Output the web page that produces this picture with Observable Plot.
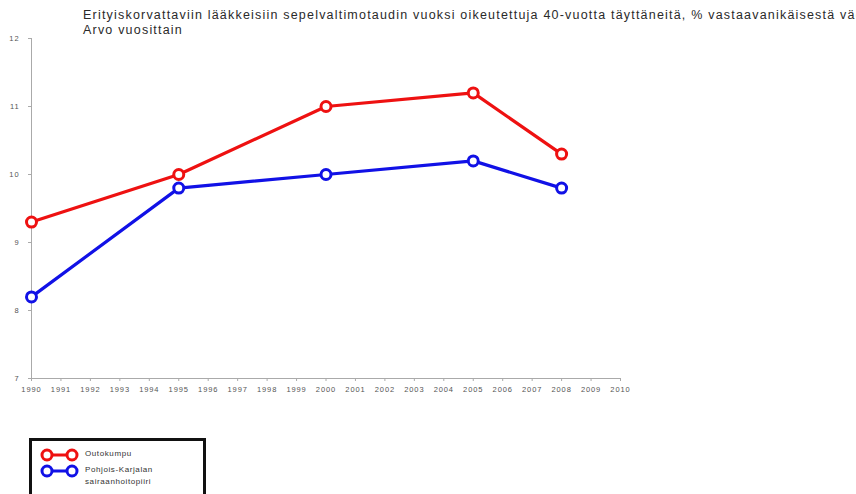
<!DOCTYPE html>
<html><head><meta charset="utf-8">
<script src="https://cdn.jsdelivr.net/npm/d3@7"></script>
<script src="https://cdn.jsdelivr.net/npm/@observablehq/plot@0.6"></script>
<style>
html,body{margin:0;padding:0;width:856px;height:494px;overflow:hidden;background:#fff;font-family:"Liberation Sans",Arial,sans-serif;}
#title{position:absolute;left:83px;top:8px;font-size:12.5px;letter-spacing:1.2px;line-height:15px;color:#2a2a2a;white-space:nowrap;}
#chart{position:absolute;left:0;top:0;}
#legend{position:absolute;left:29px;top:438px;width:177px;height:62px;border:3px solid #111;box-sizing:border-box;font-size:8px;letter-spacing:0.6px;color:#333;}
.row{position:absolute;left:0;display:flex;align-items:flex-start;}
.row svg{display:block;}
.row span{margin-left:0px;line-height:12px;}
</style></head><body>
<div id="chart"></div>
<div id="title">Erityiskorvattaviin lääkkeisiin sepelvaltimotaudin vuoksi oikeutettuja 40-vuotta täyttäneitä, % vastaavanikäisestä väestöstä<br>Arvo vuosittain</div>
<div id="legend"></div>
<script>
const years = [1990, 1995, 2000, 2005, 2008];
const outokumpu = [9.3, 10.0, 11.0, 11.2, 10.3];
const pohjoisKarjala = [8.2, 9.8, 10.0, 10.2, 9.8];
const seriesNames = ["Outokumpu", "Pohjois-Karjalan sairaanhoitopiiri"];
const seriesColors = ["#ee1111", "#1111e6"];
const xTicks = d3.range(1990, 2011);
const yTicks = [7, 8, 9, 10, 11, 12];

const data = [
  ...years.map((y, i) => ({year: y, value: outokumpu[i], s: seriesNames[0]})),
  ...years.map((y, i) => ({year: y, value: pohjoisKarjala[i], s: seriesNames[1]}))
];

const plot = Plot.plot({
  width: 856, height: 400,
  marginLeft: 31, marginRight: 236, marginTop: 38, marginBottom: 22,
  style: {fontFamily: "Liberation Sans, Arial, sans-serif", fontSize: "7.5px", letterSpacing: "0.9px", color: "#555", background: "transparent"},
  x: {domain: [1990, 2010]},
  y: {domain: [7, 12]},
  color: {domain: seriesNames, range: seriesColors},
  marks: [
    Plot.ruleX([1990], {stroke: "#aaa", strokeWidth: 1}),
    Plot.ruleY([7], {stroke: "#aaa", strokeWidth: 1}),
    Plot.axisX({ticks: xTicks, tickSize: 3, tickFormat: d => String(d), stroke: "#aaa", tickPadding: 5, label: null}),
    Plot.axisY({ticks: yTicks, tickSize: 3, tickFormat: d => String(d), stroke: "#aaa", tickPadding: 9, label: null}),
    Plot.line(data, {x: "year", y: "value", stroke: "s", strokeWidth: 3.2}),
    Plot.dot(data, {x: "year", y: "value", stroke: "s", fill: "white", r: 5, strokeWidth: 3})
  ]
});
document.getElementById("chart").appendChild(plot);

const legend = document.getElementById("legend");
const labels = ["Outokumpu", "Pohjois-Karjalan<br>sairaanhoitopiiri"];
seriesNames.forEach((n, i) => {
  const row = document.createElement("div");
  row.className = "row";
  row.style.top = (7 + i * 16) + "px";
  row.style.left = "7px";
  row.innerHTML = `<svg width="46" height="14"><line x1="8" y1="7" x2="33" y2="7" stroke="${seriesColors[i]}" stroke-width="3"/><circle cx="8" cy="7" r="5" fill="white" stroke="${seriesColors[i]}" stroke-width="3"/><circle cx="33" cy="7" r="5" fill="white" stroke="${seriesColors[i]}" stroke-width="3"/></svg><span>${labels[i]}</span>`;
  legend.appendChild(row);
});
</script>
</body></html>
